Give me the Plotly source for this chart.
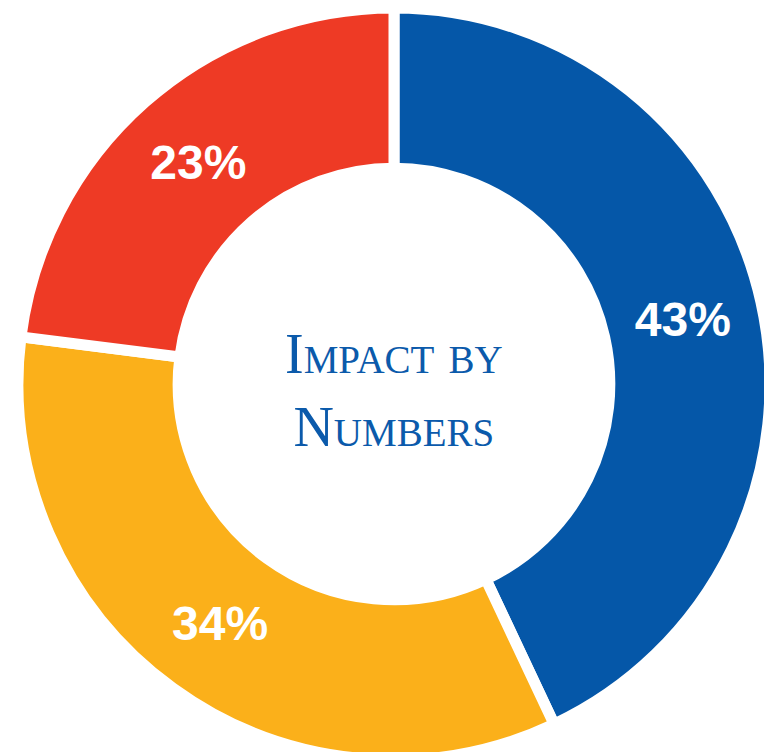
import plotly.graph_objects as go

labels = ["Blue", "Yellow", "Red"]
values = [43, 34, 23]
colors = ["#0557A8", "#FBB01A", "#EE3A25"]
center_title = "Impact by<br>Numbers"

fig = go.Figure(
    go.Pie(
        labels=labels,
        values=values,
        sort=False,
        direction="clockwise",
        rotation=0,
        hole=0.574,
        marker=dict(colors=colors, line=dict(color="white", width=11)),
        texttemplate="%{value}%",
        textposition="inside",
        insidetextorientation="horizontal",
        textfont=dict(family="Liberation Sans, Arial, sans-serif", size=48, color="white", weight=700),
        hoverinfo="label+value",
        showlegend=False,
    )
)

fig.add_annotation(
    x=0.5, y=0.5, xref="paper", yref="paper",
    text=center_title,
    showarrow=False,
    yshift=-6,
    font=dict(family="Liberation Serif, Times New Roman, serif", size=56, color="#0B5AAB", variant="small-caps"),
)

fig.update_layout(
    width=772, height=752,
    margin=dict(l=0, r=0, t=0, b=0),
    paper_bgcolor="white",
    plot_bgcolor="white",
)

fig.write_html("out.html")
